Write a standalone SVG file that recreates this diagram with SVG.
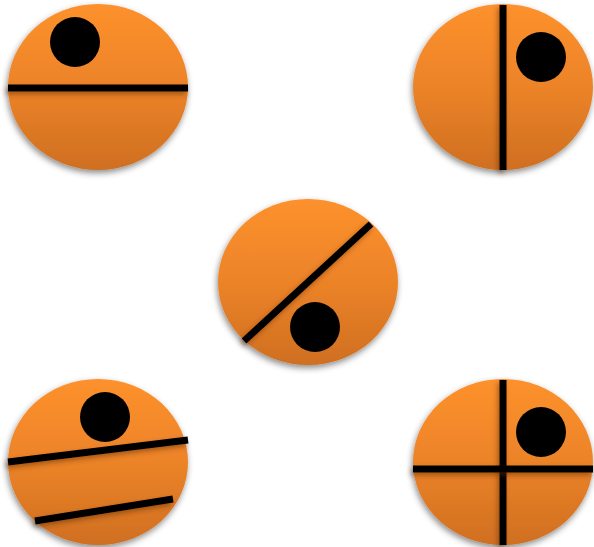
<svg xmlns="http://www.w3.org/2000/svg" width="594" height="547" viewBox="0 0 594 547">
<defs>
<linearGradient id="og" x1="0" y1="0" x2="0" y2="1">
<stop offset="0" stop-color="#fd912d"/>
<stop offset="0.5" stop-color="#ec8328"/>
<stop offset="1" stop-color="#cf6f20"/>
</linearGradient>
<filter id="sh" x="-20%" y="-20%" width="140%" height="140%">
<feDropShadow dx="-1" dy="3" stdDeviation="3" flood-color="#000" flood-opacity="0.45"/>
</filter>
<filter id="lsh" filterUnits="userSpaceOnUse" x="0" y="0" width="594" height="547">
<feDropShadow dx="-2" dy="3" stdDeviation="2.5" flood-color="#5a2a00" flood-opacity="0.5"/>
</filter>
</defs>
<style>
.disc{fill:url(#og);filter:url(#sh)}
.bar{stroke:#000;stroke-width:7;fill:none;filter:url(#lsh)}
.dot{fill:#000}
</style>
<g id="node-top-left">
<ellipse class="disc" cx="98" cy="87" rx="90" ry="83"/>
<line class="bar" x1="8" y1="88" x2="188" y2="88"/>
<circle class="dot" cx="75" cy="42" r="25"/>
</g>
<g id="node-top-right">
<ellipse class="disc" cx="503" cy="87" rx="90" ry="83"/>
<line class="bar" x1="503" y1="5" x2="503" y2="170"/>
<circle class="dot" cx="541" cy="57" r="25"/>
</g>
<g id="node-center">
<ellipse class="disc" cx="308" cy="282" rx="90" ry="83"/>
<line class="bar" x1="244" y1="341" x2="371" y2="224"/>
<circle class="dot" cx="315" cy="327" r="25"/>
</g>
<g id="node-bottom-left">
<ellipse class="disc" cx="98" cy="462" rx="90" ry="83"/>
<line class="bar" x1="8" y1="462" x2="188" y2="440"/>
<line class="bar" x1="35" y1="521" x2="173" y2="499"/>
<circle class="dot" cx="105" cy="417" r="25"/>
</g>
<g id="node-bottom-right">
<ellipse class="disc" cx="503" cy="462" rx="90" ry="83"/>
<line class="bar" x1="503" y1="380" x2="503" y2="545"/>
<line class="bar" x1="413" y1="469" x2="593" y2="469"/>
<circle class="dot" cx="541" cy="432" r="25"/>
</g>
<g id="connectors"></g>
</svg>
